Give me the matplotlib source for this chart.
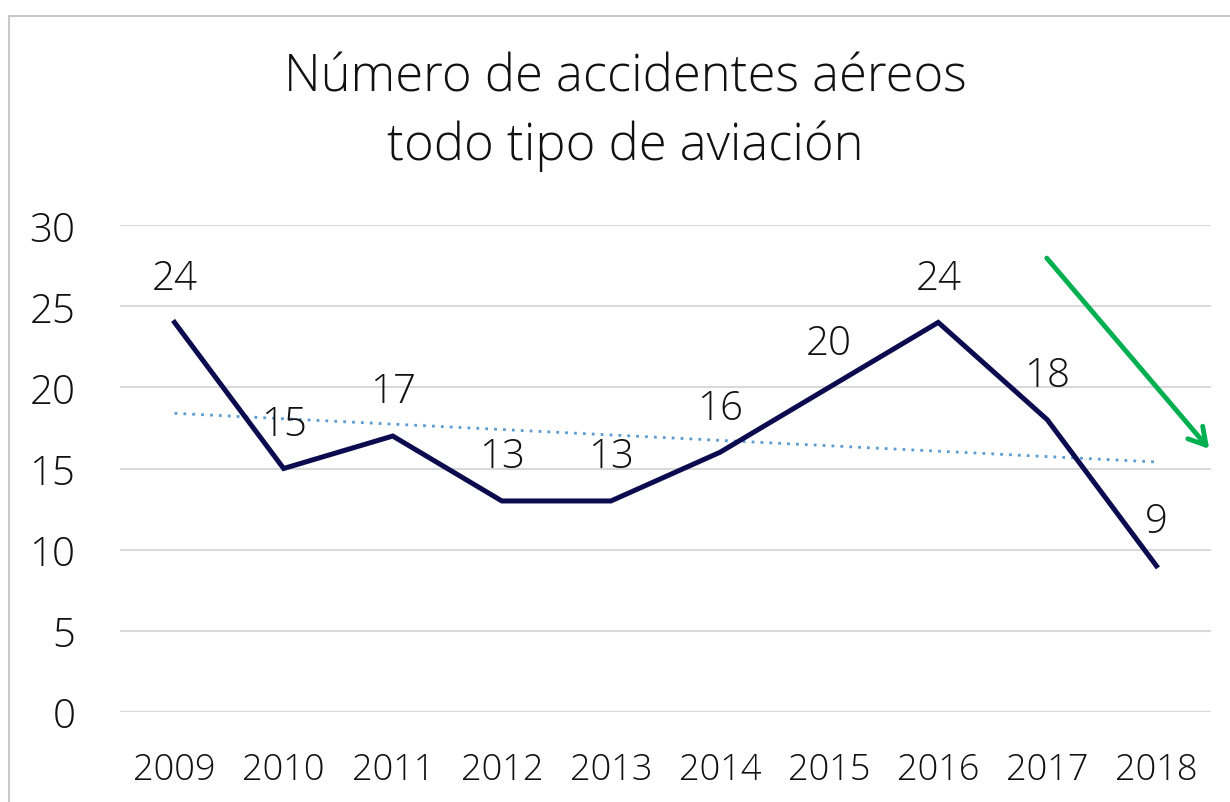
import numpy as np
import matplotlib.pyplot as plt
from matplotlib.patches import Rectangle

years = ['2009', '2010', '2011', '2012', '2013', '2014', '2015', '2016', '2017', '2018']
accidents = [24, 15, 17, 13, 13, 16, 20, 24, 18, 9]

plt.rcParams['font.family'] = ['Open Sans', 'DejaVu Sans']
plt.rcParams['font.weight'] = 'light'

fig = plt.figure(figsize=(12.3, 8.03), dpi=100)
ax = fig.add_axes([120/1230, 1-713/803, (1211-120)/1230, (713-226)/803])

x = np.arange(len(years))
y = np.array(accidents)

ax.plot(x, y, color='#0B0B4F', lw=3.6, zorder=3, solid_joinstyle='miter')

# linear trend line
m, b = np.polyfit(x, y, 1)
ax.plot(x, m*x + b, color='#5B9BD5', lw=2, ls=(0, (1, 2.2)), zorder=2)

for xi, yi in zip(x, y):
    ax.annotate(str(yi), (xi, yi), xytext=(0, 17), textcoords='offset points',
                ha='center', va='bottom', fontsize=29, color='#111111')

ax.set_xlim(-0.5, 9.5)
ax.set_ylim(0, 30)
ax.set_yticks(range(0, 31, 5))
ax.set_xticks(x)
ax.set_xticklabels(years)
ax.tick_params(length=0, colors='#111111')
ax.tick_params(axis='x', pad=28, labelsize=26)
ax.tick_params(axis='y', pad=32, labelsize=29)
ax.grid(axis='y', color='#D9D9D9', lw=1.5)
ax.set_axisbelow(True)
for s in ax.spines.values():
    s.set_visible(False)

fig.text(625/1230, 1-78/803, 'Número de accidentes aéreos', ha='center', va='center',
         fontsize=36.5, color='#111111')
fig.text(625/1230, 1-146/803, 'todo tipo de aviación', ha='center', va='center',
         fontsize=36.5, color='#111111')

# green arrow
ax.annotate('', xy=(1211/1230, 1-452/803), xytext=(1045/1230, 1-257/803),
            xycoords='figure fraction', textcoords='figure fraction',
            arrowprops=dict(arrowstyle='->,head_length=1.2,head_width=0.7',
                            color='#00B050', lw=3.5))

fig.patches.append(Rectangle((9/1230, -0.1), 1.2, 1-17/803 + 0.1,
                             transform=fig.transFigure, fill=False,
                             edgecolor='#C8C8C8', lw=1.5))

fig.savefig('out.png', dpi=100)
